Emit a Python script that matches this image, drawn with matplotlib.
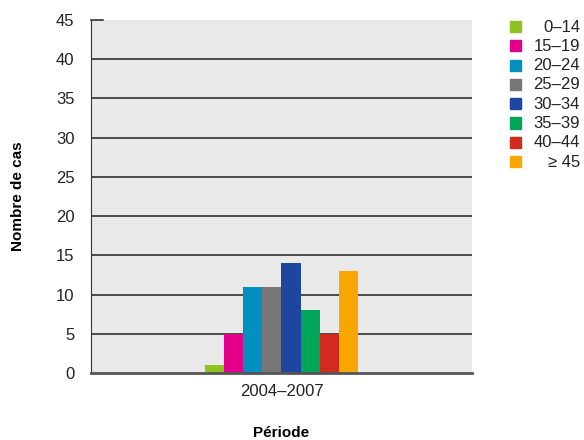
import matplotlib.pyplot as plt
from matplotlib.patches import Rectangle

plt.rcParams['font.family'] = ['Liberation Sans', 'DejaVu Sans']

period = ['2004–2007']
age_groups = ['0–14', '15–19', '20–24', '25–29', '30–34', '35–39', '40–44', '≥ 45']
cases = [1, 5, 11, 11, 14, 8, 5, 13]
colors = ['#8dc21f', '#e2008a', '#0090c0', '#767676', '#1e45a0', '#00a55a', '#d12b1e', '#f9a600']

fig = plt.figure(figsize=(5.84, 4.40), dpi=100)
ax = fig.add_axes([0.156, 0.152, 0.652, 0.803])
ax.set_facecolor('#e8e9e8')

bar_w = 0.05
n = len(age_groups)
for i, (val, col) in enumerate(zip(cases, colors)):
    x = (i - (n - 1) / 2) * bar_w
    ax.bar(x, val, width=bar_w, color=col, zorder=3)

ax.set_xlim(-0.5, 0.5)
ax.set_ylim(0, 45)
ax.set_yticks(range(0, 50, 5))
ax.set_xticks([0])
ax.set_xticklabels(period)
for y in range(5, 45, 5):
    ax.axhline(y, color='#222222', lw=1.1, zorder=1)

for s in ['top', 'right']:
    ax.spines[s].set_visible(False)
ax.spines['left'].set_color('#333333')
ax.spines['bottom'].set_color('#555555')
ax.spines['bottom'].set_linewidth(2)
ax.spines['bottom'].set_zorder(4)
ax.tick_params(axis='x', length=0, pad=8, labelsize=12, colors='#222222')
ax.tick_params(axis='y', length=0, pad=12, labelsize=12, colors='#222222')
ax.plot([0, 0.03], [45, 45], color='#222222', lw=1.1, transform=ax.get_yaxis_transform(), clip_on=False)

ax.set_ylabel('Nombre de cas', fontsize=11, fontweight='bold', labelpad=22)
ax.set_xlabel('Période', fontsize=11, fontweight='bold', labelpad=19)

# legend drawn by hand so labels can be right-aligned
for i, (lab, col) in enumerate(zip(age_groups, colors)):
    yc = 1 - (27 + i * 19.3) / 440
    fig.patches.append(Rectangle((510 / 584, yc - 5 / 440), 11 / 584, 11 / 440,
                                 transform=fig.transFigure, color=col))
    fig.text(580 / 584, yc, lab, ha='right', va='center', fontsize=12, color='#222222')

fig.savefig('out.png', dpi=100)
